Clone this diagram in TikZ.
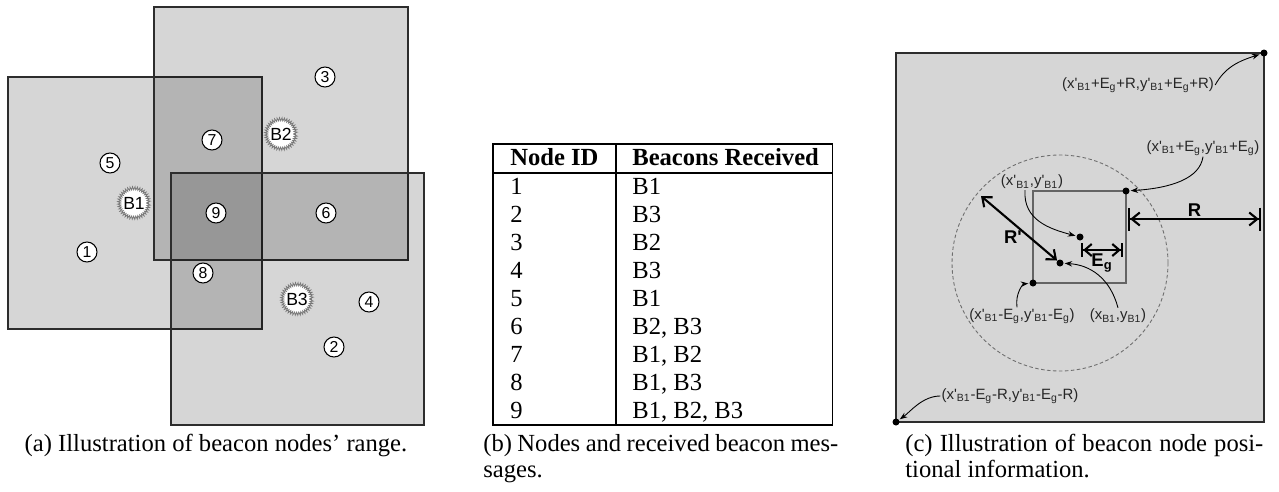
\documentclass[tikz,border=0pt]{standalone}
\usepackage{fontspec}
\setmainfont{Liberation Serif}
\newfontfamily\arial{Liberation Sans}
\usepackage{tikz}
\usetikzlibrary{shapes.geometric, arrows.meta, positioning, calc, decorations.pathmorphing}
\definecolor{myedge}{RGB}{45,45,45}
\definecolor{mypane}{RGB}{214,214,214}
\definecolor{mybox}{RGB}{100,100,100}
\definecolor{mydash}{RGB}{110,110,110}
\definecolor{myburst}{RGB}{120,120,120}
\tikzset{
  bcnrange/.style={fill=black, fill opacity=0.16, draw=myedge, draw opacity=1, line width=0.7pt},
  nodeid/.style={circle, draw=black, fill=white, line width=0.6pt,
    minimum size=4mm, inner sep=0pt, font=\arial\fontsize{9}{10}\selectfont},
  beacon/.style={circle, fill=white, draw=myburst, line width=0.45pt,
    minimum size=5.9mm, inner sep=0pt, decorate,
    decoration={zigzag, segment length=1.3pt, amplitude=0.9pt},
    font=\arial\fontsize{10}{11}\selectfont},
  hdr/.style={anchor=base west, inner sep=0pt, font=\bfseries\fontsize{14}{16}\selectfont},
  cell/.style={anchor=base west, inner sep=0pt, font=\fontsize{14}{16}\selectfont},
  rule/.style={line width=0.6pt},
  capt/.style={inner sep=0pt, font=\fontsize{14}{15.3}\selectfont},
  pane/.style={fill=mypane, draw=myedge, line width=0.7pt},
  coord/.style={inner sep=0.5pt, font=\arial\fontsize{8.5}{10}\selectfont, text=black!85},
  dot/.style={circle, fill=black, minimum size=1.4mm, inner sep=0pt},
  ptr/.style={-{Stealth[length=1.5mm, width=1.1mm]}, line width=0.5pt, shorten >=0.5pt},
  dim/.style={line width=1.2pt, color=black},
  measure/.style={inner sep=1pt, font=\arial\bfseries\fontsize{10.5}{12}\selectfont}
}
\begin{document}
\begin{tikzpicture}[x=0.2mm, y=-0.2mm]
\useasboundingbox (0,0) rectangle (1279,491);

% (a) beacon ranges
\draw[bcnrange] (8,77) rectangle (262,329);
\draw[bcnrange] (154,7) rectangle (408,260);
\draw[bcnrange] (171,173) rectangle (424,425);
\foreach \n/\px/\py in {1/87/252, 2/334/347, 3/325/77, 4/369/302, 5/110/163,
                        6/326/213, 7/212/140, 8/203/273, 9/216/213}
  \node[nodeid] (n\n) at (\px,\py) {\n};
\node[beacon] (b1) at (134,203) {B1};
\node[beacon] (b2) at (281,134) {B2};
\node[beacon] (b3) at (297,299) {B3};
\node[capt, anchor=base] (capa) at (216,451) {(a) Illustration of beacon nodes’ range.};

% (b) table
\node[hdr] (hid) at (510,165) {Node ID};
\node[hdr] (hbr) at (632,165) {Beacons Received};
\foreach \id/\bc [count=\r] in {1/B1, 2/B3, 3/B2, 4/B3, 5/B1, 6/{B2, B3},
                                7/{B1, B2}, 8/{B1, B3}, 9/{B1, B2, B3}} {
  \node[cell] (id\r) at (510,{166+28*\r}) {\id};
  \node[cell] (bc\r) at (632,{166+28*\r}) {\bc};
}
\coordinate (tl) at (493,144);
\path (hbr.east) ++(13,0) coordinate (tr);
\draw[rule] (tl) rectangle (tr |- 0,425);
\draw[rule] (tl |- 0,173) -- (tr |- 0,173);
\draw[rule] (616,144) -- (616,425);
\node[capt, anchor=base west, text width=7.1cm, align=justify] (capb) at (483,451)
  {(b) Nodes and received beacon mes-\linebreak sages.};

% (c) positional information
\draw[pane] (896,53) rectangle (1264,422);
\draw[mydash, dash pattern=on 2pt off 1.4pt, line width=0.5pt] (1060,263) circle[radius=2.16cm];
\draw[mybox, line width=0.6pt] (1033,191) rectangle (1126,283);
\node[dot] (ctr) at (1264,53) {};
\node[dot] (cbl) at (896,422) {};
\node[dot] (qtr) at (1126,191) {};
\node[dot] (qbl) at (1033,283) {};
\node[dot] (pest) at (1080,237) {};
\node[dot] (preal) at (1060,263) {};

\node[coord] (l1) at (1138,85) {(x'\textsubscript{B1}+E\textsubscript{g}+R,y'\textsubscript{B1}+E\textsubscript{g}+R)};
\node[coord] (l2) at (1203,148) {(x'\textsubscript{B1}+E\textsubscript{g},y'\textsubscript{B1}+E\textsubscript{g})};
\node[coord] (l3) at (1032,182) {(x'\textsubscript{B1},y'\textsubscript{B1})};
\node[coord] (l4) at (1022,316) {(x'\textsubscript{B1}-E\textsubscript{g},y'\textsubscript{B1}-E\textsubscript{g})};
\node[coord] (l5) at (1118,316) {(x\textsubscript{B1},y\textsubscript{B1})};
\node[coord] (l6) at (1010,396) {(x'\textsubscript{B1}-E\textsubscript{g}-R,y'\textsubscript{B1}-E\textsubscript{g}-R)};

\draw[ptr] (l1.east) .. controls +(10,-18) and +(-25,8) .. (ctr);
\draw[ptr] (l2.south) .. controls +(-3,22) and +(45,-3) .. (qtr);
\draw[ptr] ($(l3.south)+(-7,0)$) .. controls +(-2,30) and +(-30,-8) .. (pest);
\draw[ptr] ($(l4.north)+(-5,0)$) .. controls +(-2,-14) and +(-10,1) .. (qbl);
\draw[ptr] (l5.north) .. controls +(-8,-30) and +(30,2) .. (preal);
\draw[ptr] (l6.west) .. controls +(-18,0) and +(14,-10) .. (cbl);

% R, R' and Eg
\coordinate (rin) at (1128,219);
\coordinate (rout) at (1261,219);
\draw[dim, {Bar[width=4.6mm]Straight Barb[length=1.6mm,width=2.6mm]}-{Straight Barb[length=1.6mm,width=2.6mm]Bar[width=4.6mm]}]
  (rin) -- node[measure, above] (rlab) {R} (rout);
\coordinate (ein) at (1081,250);
\coordinate (eout) at (1123,250);
\draw[dim, {Bar[width=2.8mm]Straight Barb[length=1.4mm,width=2.4mm]}-{Straight Barb[length=1.4mm,width=2.4mm]Bar[width=2.8mm]}]
  (ein) -- (eout);
\node[measure] (elab) at (1102,263) {E\textsubscript{g}};
\coordinate (rp) at (981,196);
\draw[dim, {Straight Barb[length=1.6mm,width=2.6mm]}-{Straight Barb[length=1.6mm,width=2.6mm]}]
  (rp) -- (preal);
\node[measure] (rplab) at (1013,237) {R'};

\node[capt, anchor=base west, text width=7.16cm, align=justify] (capc) at (905,451)
  {(c) Illustration of beacon node posi-\linebreak tional information.};
\end{tikzpicture}
\end{document}
